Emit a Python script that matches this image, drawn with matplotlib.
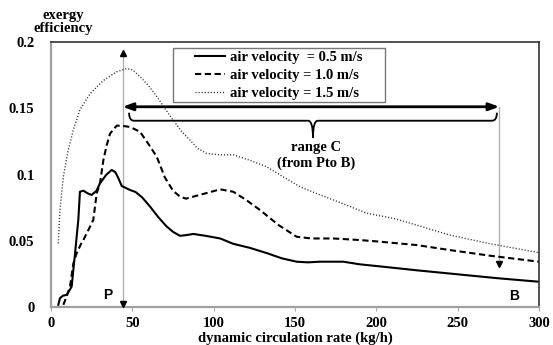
import matplotlib.pyplot as plt
from matplotlib.patches import Rectangle, PathPatch
from matplotlib.path import Path

# circulation rate (kg/h) and exergy efficiency
x_05 = [4.5, 5.5, 7.5, 9.6, 12.7, 14.8, 16.8, 17.8, 19.9, 22.5, 25, 28, 30.1, 34,
        37.3, 39.5, 41.4, 43.5, 48.6, 52, 56, 60.9, 66, 71.1, 75, 79.3, 83, 87.5,
        95, 104, 112, 122, 132.6, 142, 151, 158, 165, 172, 179.7, 190, 202, 225,
        250, 275, 300]
y_05 = [0.002, 0.007, 0.009, 0.0094, 0.0157, 0.041, 0.066, 0.0872, 0.088, 0.086,
        0.0848, 0.088, 0.0935, 0.1, 0.1036, 0.102, 0.0975, 0.0915, 0.0885, 0.087,
        0.083, 0.076, 0.068, 0.061, 0.057, 0.054, 0.0545, 0.0554, 0.054, 0.052,
        0.048, 0.045, 0.041, 0.037, 0.0345, 0.034, 0.0345, 0.0345, 0.0345,
        0.0325, 0.031, 0.028, 0.025, 0.022, 0.0194]

x_10 = [7.6, 9.5, 11.7, 13.7, 15.8, 18.9, 19.9, 24, 26, 28.1, 30.1, 32.2, 34.2,
        36.3, 40.4, 44, 48.6, 54.7, 60, 65, 70, 75, 79.3, 83, 87.5, 95, 104, 112,
        120, 128.5, 140, 151, 160, 173.6, 190, 202, 225, 245, 270, 300]
y_10 = [0.002, 0.008, 0.0157, 0.033, 0.041, 0.049, 0.0508, 0.0609, 0.066, 0.086,
        0.0935, 0.111, 0.122, 0.131, 0.137, 0.1368, 0.136, 0.1324, 0.123, 0.1136,
        0.098, 0.088, 0.0835, 0.082, 0.0835, 0.086, 0.089, 0.0872, 0.081, 0.0734,
        0.062, 0.0533, 0.052, 0.052, 0.0508, 0.0496, 0.047, 0.0433, 0.039, 0.0345]

x_15 = [4.5, 5.5, 7.6, 10.6, 13.7, 17.8, 24, 32.2, 40.4, 46.5, 50, 54.7, 60, 65,
        70, 75.2, 80, 85.5, 90, 95.7, 104, 112, 122, 132.6, 142, 153, 163, 173.6,
        184, 194, 210.4, 225, 245, 270, 300]
y_15 = [0.0483, 0.073, 0.0985, 0.1186, 0.1337, 0.149, 0.161, 0.171, 0.1776, 0.18,
        0.179, 0.174, 0.167, 0.159, 0.15, 0.141, 0.133, 0.126, 0.12, 0.116, 0.115,
        0.115, 0.111, 0.106, 0.099, 0.091, 0.086, 0.081, 0.076, 0.071, 0.0672,
        0.062, 0.0546, 0.048, 0.0413]

labels = ['air velocity  = 0.5 m/s', 'air velocity = 1.0 m/s',
          'air velocity = 1.5 m/s']
x_ticks = [0, 50, 100, 150, 200, 250, 300]
y_ticks = [0, 0.05, 0.1, 0.15, 0.2]
y_tick_labels = ['0', '0.05', '0.1', '0.15', '0.2']

# range C: from point P to point B
x_P = 44
x_B = 275.6

serif = 'Liberation Serif'
sans = 'Liberation Sans'

fig = plt.figure(figsize=(5.53, 3.45), dpi=100)
ax = fig.add_axes([0.0922, 0.1087, 0.8825, 0.7696])

l1, = ax.plot(x_05, y_05, color='black', lw=1.5)
l2, = ax.plot(x_10, y_10, color='black', lw=1.5, ls=(0, (3, 1.7)))
l3, = ax.plot(x_15, y_15, color='#333333', lw=1.0, ls=(0, (0.8, 1.4)))

ax.set_xlim(0, 300)
ax.set_ylim(0, 0.2)
ax.set_xticks(x_ticks)
ax.set_yticks(y_ticks)
ax.set_yticklabels(y_tick_labels)
for lab in ax.get_xticklabels() + ax.get_yticklabels():
    lab.set_fontfamily(serif)
    lab.set_fontweight('bold')
    lab.set_fontsize(10.5)
ax.tick_params(axis='x', length=3, color='#aaaaaa', pad=4)
ax.tick_params(axis='y', length=0, pad=12)

for s in ['left', 'bottom']:
    ax.spines[s].set_color('#a0a0a0')
    ax.spines[s].set_linewidth(1.6)
for s in ['top', 'right']:
    ax.spines[s].set_color('#333333')
    ax.spines[s].set_linewidth(1.2)

ax.set_xlabel('dynamic circulation rate (kg/h)', fontfamily=serif,
              fontweight='bold', fontsize=10.5, labelpad=1)
fig.text(63 / 553, 1 - 22 / 345, 'exergy\nefficiency', ha='center', va='center',
         fontfamily=serif, fontweight='bold', fontsize=10.5, linespacing=1.0)

# legend box drawn separately for the wide side padding
ax.add_patch(Rectangle((0.25, 0.774), 0.434, 0.2045, transform=ax.transAxes,
                       fill=False, edgecolor='#777777', lw=1.0, zorder=4))
leg = ax.legend([l1, l2, l3], labels, loc='upper left',
                bbox_to_anchor=(0.296, 0.966), frameon=False, borderpad=0,
                borderaxespad=0, handlelength=2.05, handletextpad=0.35,
                labelspacing=0.33,
                prop={'family': serif, 'weight': 'bold', 'size': 10.5})

# vertical gray markers at P and B
ax.plot([x_P, x_P], [0, 0.192], color='#b0b0b0', lw=1.0, zorder=1)
ax.plot([x_P], [0.192], marker='^', color='black', ms=5, zorder=3)
ax.plot([x_P], [0.0025], marker='v', color='black', ms=5, zorder=3)
ax.plot([x_B, x_B], [0.151, 0.032], color='#b0b0b0', lw=1.0, zorder=1)
ax.plot([x_B], [0.0325], marker='v', color='black', ms=5, zorder=3)

# double arrow
ax.annotate('', xy=(x_P, 0.1512), xytext=(x_B, 0.1512),
            arrowprops=dict(arrowstyle='<|-|>,head_length=0.6,head_width=0.22',
                            color='black', lw=2, shrinkA=0, shrinkB=0))

# brace
xl, xr = x_P + 4, x_B - 1.5
xc = (xl + xr) / 2
yb, h, d, rx = 0.1407, 0.006, 0.0128, 3
verts = [(xl, yb + h), (xl, yb), (xl + rx, yb), (xc - rx, yb), (xc, yb),
         (xc, yb - d), (xc, yb), (xc + rx, yb), (xr - rx, yb), (xr, yb),
         (xr, yb + h)]
codes = [Path.MOVETO, Path.CURVE3, Path.CURVE3, Path.LINETO, Path.CURVE3,
         Path.CURVE3, Path.CURVE3, Path.CURVE3, Path.LINETO, Path.CURVE3,
         Path.CURVE3]
ax.add_patch(PathPatch(Path(verts, codes), fill=False, edgecolor='black', lw=1.3))

ax.text(xc + 2, 0.1203, 'range C', ha='center', va='center', fontfamily=serif,
        fontweight='bold', fontsize=10.5)
ax.text(xc + 2, 0.1085, '(from Pto B)', ha='center', va='center',
        fontfamily=serif, fontweight='bold', fontsize=10.5)
ax.text(35, 0.0095, 'P', ha='center', va='center', fontfamily=sans,
        fontweight='bold', fontsize=10)
ax.text(284.5, 0.0085, 'B', ha='center', va='center', fontfamily=sans,
        fontweight='bold', fontsize=10)

fig.savefig('out.png', dpi=100)
